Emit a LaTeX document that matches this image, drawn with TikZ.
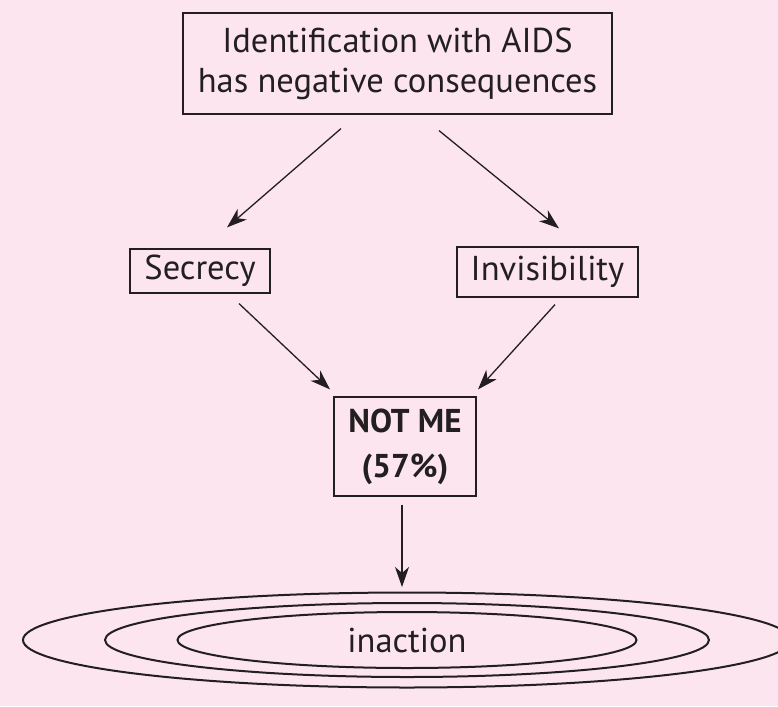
\documentclass[tikz,border=0pt]{standalone}
\usepackage{fontspec}
\setmainfont{PT Sans}
\usetikzlibrary{calc,arrows.meta,shapes.geometric}
\definecolor{bgpink}{RGB}{252,229,239}
\definecolor{ink}{RGB}{35,31,32}
\tikzset{
  box/.style={draw=ink, line width=1.2pt, inner sep=0pt, align=center, text=ink,
    font=\fontsize{34.5}{40}\selectfont},
  ring/.style={draw=ink, line width=2pt, ellipse, inner sep=0pt},
  arr/.style={draw=ink, line width=1.3pt, -{Stealth[length=20pt,width=14pt,inset=6pt]}}
}
\begin{document}
\begin{tikzpicture}[x=1pt,y=-1pt]
\fill[bgpink] (0,0) rectangle (778,706);
\useasboundingbox (0,0) rectangle (778,706);
\clip (0,0) rectangle (778,706);
\node[box, minimum width=429pt, minimum height=101pt] (top) at (397.5,63.5)
  {Identification with AIDS\\has negative consequences};
\node[box, minimum width=140pt, minimum height=44pt] (sec) at (200,271) {Secrecy};
\node[box, minimum width=181pt, minimum height=50pt] (inv) at (547.5,272) {Invisibility};
\node[box, minimum width=142pt, minimum height=99pt, font=\fontsize{33}{45}\selectfont\bfseries] (notme) at (405,446.5)
  {NOT ME\\(57\%)};
\node[ring, minimum width=768pt, minimum height=95pt] (outer) at (407,640) {};
\node[ring, minimum width=604pt, minimum height=74pt] (middle) at (407,640) {};
\node[ring, minimum width=459pt, minimum height=56pt, text=ink, font=\fontsize{34.5}{40}\selectfont] (inner) at (407,640) {inaction};
\draw[arr] ($(top.south)+(-56.5,14)$) -- ($(sec.north)+(27,-21)$);
\draw[arr] ($(top.south)+(41.5,16)$) -- ($(inv.north)+(11.5,-18)$);
\draw[arr] ($(sec.south)+(39,10)$) -- ($(notme.north)+(-75,-7)$);
\draw[arr] ($(inv.south)+(7.5,7)$) -- ($(notme.north)+(73,-7)$);
\draw[arr] ($(notme.south)+(-3,8)$) -- ($(outer.north)+(-5,-4.5)$);
\end{tikzpicture}
\end{document}
